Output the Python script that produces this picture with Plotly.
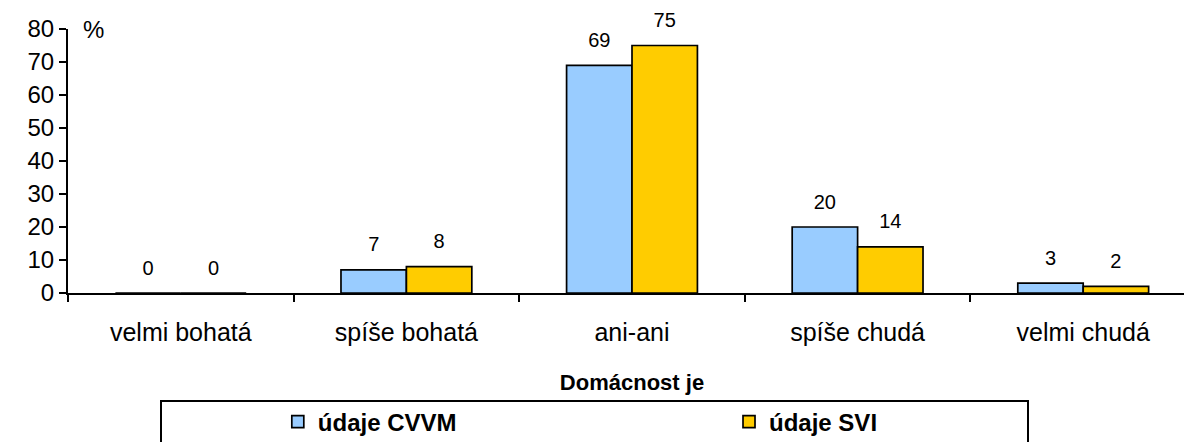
import plotly.graph_objects as go

categories = ["velmi bohatá", "spíše bohatá", "ani-ani", "spíše chudá", "velmi chudá"]
cvvm = [0, 7, 69, 20, 3]
svi = [0, 8, 75, 14, 2]
y_ticks = [0, 10, 20, 30, 40, 50, 60, 70, 80]

FONT = "Arial, Liberation Sans, sans-serif"

fig = go.Figure()
series = [
    ("údaje CVVM", cvvm, "#99CCFF", "a", "legend"),
    ("údaje SVI", svi, "#FFCC00", "b", "legend2"),
]
for name, vals, color, grp, leg in series:
    fig.add_trace(go.Bar(
        x=categories, y=vals, name=name, offsetgroup=grp, legend=leg,
        marker=dict(color=color, line=dict(color="black", width=1.7)),
    ))
# value labels sit a bit above the bars, like the original
for name, vals, color, grp, leg in series:
    fig.add_trace(go.Scatter(
        x=categories, y=vals, mode="markers+text", text=[str(v) for v in vals],
        textposition="top center", offsetgroup=grp, showlegend=False,
        textfont=dict(size=20, color="black"), cliponaxis=False,
        marker=dict(size=20, opacity=0), hoverinfo="skip",
    ))

legend_style = dict(
    orientation="h", y=-0.489, xanchor="left", yanchor="middle",
    font=dict(size=24, family=FONT, weight="bold"),
    bgcolor="rgba(0,0,0,0)",
)
fig.update_layout(
    width=1192, height=442,
    margin=dict(l=60, r=4, t=21, b=157),
    paper_bgcolor="white", plot_bgcolor="white",
    font=dict(family=FONT, size=25, color="black"),
    barmode="group", bargap=0.42, bargroupgap=0,
    scattermode="group",
    legend=dict(x=0.186, **legend_style),
    legend2=dict(x=0.586, **legend_style),
    showlegend=True,
)
fig.update_xaxes(
    showline=True, linecolor="black", linewidth=2,
    ticks="outside", tickson="boundaries", ticklen=7, tickwidth=2, tickcolor="black",
    tickfont=dict(size=25), ticklabelstandoff=16,
    title=dict(text="<b>Domácnost je</b>", font=dict(size=22), standoff=30),
    showgrid=False,
)
fig.update_yaxes(
    range=[0, 80], tickvals=y_ticks,
    showline=True, linecolor="black", linewidth=2,
    ticks="outside", ticklen=7, tickwidth=2, tickcolor="black",
    tickfont=dict(size=24), showgrid=False, zeroline=False,
)
fig.add_annotation(
    text="%", xref="paper", yref="paper", x=0.0115, y=1.0,
    xanchor="left", yanchor="middle", showarrow=False, font=dict(size=24),
)
fig.add_shape(
    type="rect", xref="paper", yref="paper",
    x0=(153 - 60) / 1128, x1=(1020 - 60) / 1128, y0=-0.65, y1=-0.409,
    line=dict(color="black", width=2), fillcolor="rgba(0,0,0,0)",
)

fig.write_html("out.html")
